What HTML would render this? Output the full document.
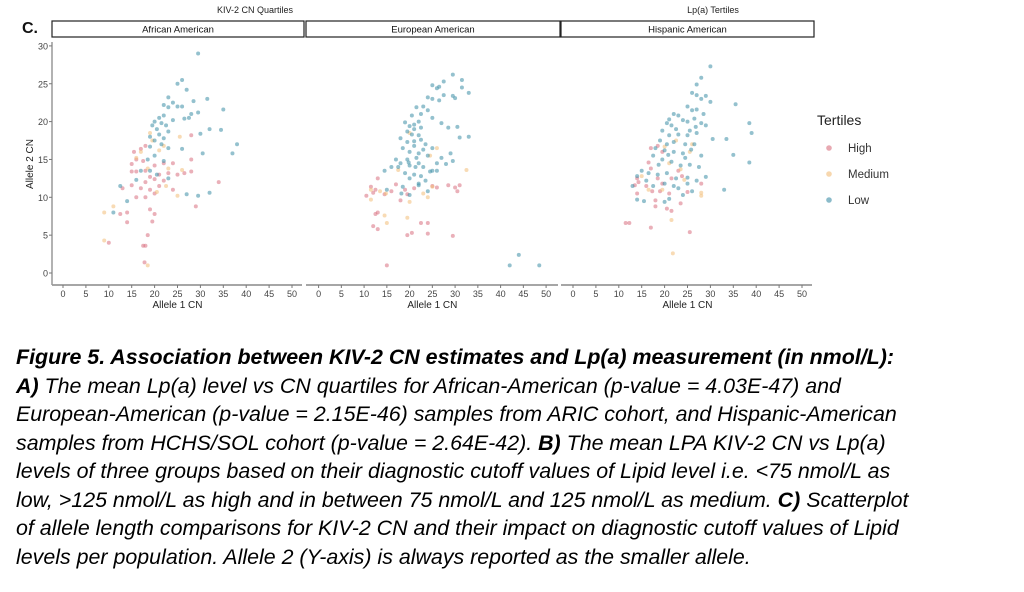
<!DOCTYPE html>
<html><head><meta charset="utf-8">
<style>
body{margin:0;width:1024px;height:592px;background:#fff;overflow:hidden;position:relative;font-family:"Liberation Sans",Arial,sans-serif;}
svg{position:absolute;left:0;top:0;}
.cap{position:absolute;left:16px;font-size:21.4px;font-style:italic;white-space:nowrap;line-height:24px;color:#000;}
</style></head><body>
<svg id="chart" width="1024" height="330"></svg>
<div class="cap" style="top:345px;font-weight:bold">Figure 5. Association between KIV-2 CN estimates and Lp(a) measurement (in nmol/L):</div>
<div class="cap" style="top:373.5px"><b>A)</b> The mean Lp(a) level vs CN quartiles for African-American (p-value = 4.03E-47) and</div>
<div class="cap" style="top:402px">European-American (p-value = 2.15E-46) samples from ARIC cohort, and Hispanic-American</div>
<div class="cap" style="top:430.5px">samples from HCHS/SOL cohort (p-value = 2.64E-42). <b>B)</b> The mean LPA KIV-2 CN vs Lp(a)</div>
<div class="cap" style="top:459px">levels of three groups based on their diagnostic cutoff values of Lipid level i.e. &lt;75 nmol/L as</div>
<div class="cap" style="top:487.5px">low, &gt;125 nmol/L as high and in between 75 nmol/L and 125 nmol/L as medium. <b>C)</b> Scatterplot</div>
<div class="cap" style="top:516px">of allele length comparisons  for KIV-2 CN and their impact on diagnostic cutoff values of Lipid</div>
<div class="cap" style="top:544.5px">levels per population. Allele 2 (Y-axis) is always reported as the smaller allele.</div>
<script>
const panels=["African American","European American","Hispanic American"];
const xTicks=[0,5,10,15,20,25,30,35,40,45,50];
const yTicks=[0,5,10,15,20,25,30];
const groups=["High","Medium","Low"];
const aaLow=[[29.5,29],[26,25.5],[25,25],[27,24.2],[23,23.2],[31.5,23],[28.5,22.7],[22,22.2],[24,22.5],[23,21.9],[25,22],[26,22],[35,21.6],[29.5,21.2],[26.5,20.4],[27.5,20.5],[28,21],[22,20.8],[21,20.5],[20,20],[19.5,19.5],[21.5,19.8],[22.5,19.5],[24,20.2],[20.5,19],[23,18.7],[21,18.3],[19,18],[22,17.8],[32,19],[34.5,18.9],[30,18.4],[20,17.5],[21.5,17],[19,16.7],[23,16.5],[38,17],[37,15.8],[30.5,15.8],[26,16.4],[20,15.5],[18.5,15],[22,14.8],[19,13.5],[20.5,13],[16,12.3],[27,10.4],[29.5,10.2],[32,10.6],[12.5,11.5],[14,9.5],[11,8],[23,12.5],[17,13.5]];
const aaHigh=[[18,16.8],[17,16.4],[15.5,16],[16,15],[15,14.4],[17.5,14.8],[20,14.2],[22,14.5],[24,14.5],[18,13.5],[16,13.4],[15,13.4],[21,13],[23,13.2],[25,13],[19,12.7],[20,12.4],[22,12.2],[18,12],[17,11.2],[15,11.6],[13,11.2],[19,11],[21,11.5],[16,10],[18,10],[20,10.5],[14,8],[12.5,7.8],[19,8.4],[20,7.8],[19.5,6.8],[14,6.7],[18.5,5],[17.5,3.6],[18,3.6],[17.8,1.4],[10,4],[28,18.2],[28,15],[28,13.4],[34,12],[29,8.8],[24,11],[26.5,13.2]];
const aaMed=[[19,18.5],[19.5,17.5],[21,16.2],[17,16],[18.5,13.8],[23,13.8],[22.5,11.5],[25,10.2],[26,13.6],[25.5,18],[9,8],[11,8.8],[18.5,1],[20.5,10.7],[16,15.2],[22,16.8],[9,4.3]];
const eaLow=[[29.5,26.2],[27.5,25.3],[26.5,24.6],[26,24.4],[31.5,25.5],[31.5,24.5],[33,23.8],[29.5,23.4],[30,23.1],[25,24.8],[24,23.2],[25,23],[26.5,22.8],[27.5,23.5],[23,22],[24,21.5],[22.5,21],[25,20.5],[22,20],[21,19.6],[20,19.4],[21,19],[22.5,19.2],[19.5,18.7],[20.5,18.3],[22,18.2],[27,19.8],[28.5,19.2],[30.5,19.3],[31,17.9],[33,18],[18,17.8],[19.5,17.3],[21,17.4],[23.5,17],[25,16.5],[18.5,16.5],[20,16],[22,15.8],[24,15.5],[27,15.2],[29,15.8],[29.5,14.8],[17,15],[18,14.5],[20,14.2],[22,14.5],[23,14],[25,13.5],[16,14],[14.5,13.5],[19,13.2],[21,13],[22.5,12.8],[24.5,13.4],[26,13.5],[20,12.5],[22,11.8],[18.5,11.4],[15,11],[24,10.8],[18.2,10.5],[20,10.3],[22,11.6],[19.5,15],[21.5,15.2],[23,16.3],[20.5,20.8],[19,19.9],[21.5,21.9],[44,2.4],[42,1],[48.5,1],[26,14.5],[28,14.4],[21,16.8],[22.5,17.6],[19.8,14.6],[21.3,14],[23.5,12.2],[17.5,14]];
const eaHigh=[[13,12.5],[11.5,11.4],[12.5,11],[10.5,10.2],[12,10.6],[14.5,10.4],[16,10.8],[17,11.7],[19,11],[19.5,10.4],[18,9.6],[21,11.2],[26,11.3],[28.5,11.6],[30,11.3],[31,11.6],[30.5,10.8],[12.5,7.8],[12,6.2],[13,5.8],[19.5,5],[20.5,5.3],[22.5,6.6],[24,6.6],[24,5.2],[29.5,4.9],[15,1],[13,8],[25,11.5]];
const eaMed=[[11.5,11],[13.5,10.8],[14.8,10.5],[11.5,9.7],[14.5,7.6],[15,6.6],[19.5,7.3],[20,9.4],[23,10.5],[24,10],[25,11.4],[32.5,13.6],[24.5,15.5],[20,18.5],[26,16.5],[17.5,13.6]];
const haLow=[[30,27.3],[28,25.8],[27,24.9],[26,23.8],[27,23.5],[28,23],[29,23.4],[30,22.6],[35.5,22.3],[25,22],[26,21.5],[27,21.6],[28.5,21],[23,20.8],[24,20.2],[25,20],[26.5,20.4],[28,19.8],[29,19.5],[20.5,19.8],[21.5,19.5],[22.5,19],[19.5,18.8],[21,18.2],[23,18.3],[25,18.2],[27,18.5],[38.5,19.8],[39,18.5],[30.5,17.7],[33.5,17.7],[19,17.5],[20.5,17],[22,17.3],[24.5,17],[26.5,17],[18,16.5],[20,16.2],[22,16],[24,15.8],[28,15.5],[35,15.6],[38.5,14.6],[17.5,15.5],[19.5,15],[21.5,14.7],[23.5,14.2],[25.5,14.3],[27.5,14],[15,13.5],[16.5,13.2],[18.5,13],[20.5,13.2],[22.5,12.5],[25,12.6],[27,12.2],[29,12.7],[14,12.8],[16,12.2],[17.5,11.5],[20,11.8],[23,11.2],[25,11.8],[33,11],[14,9.7],[15.5,9.5],[20,9.4],[21,9.8],[24,10.3],[26,10.8],[13,11.5],[22,11.5],[24.5,15.2],[25.8,16.3],[21,20.3],[22,21],[25.5,18.8],[26.8,19.3],[18.7,14.3],[20.8,15.6]];
const haHigh=[[17,16.5],[18.5,16.8],[19.5,16],[16.5,14.6],[17,13.8],[14,12.5],[13.5,11.6],[14.3,12],[16,11.5],[18.5,12.5],[19.5,11.8],[21.5,12.5],[23,13.5],[23.8,12.8],[17.3,10.8],[19,10.8],[21,10.5],[25,10.7],[28,11.8],[18,9.6],[18,8.8],[20.5,8.5],[21.5,8.2],[23.5,9.2],[11.5,6.6],[12.3,6.6],[17,6],[25.5,5.4],[14,10.5]];
const haMed=[[22.5,17.5],[25.5,16],[26,17],[20,16.7],[21,14.5],[24.3,12.3],[19.5,11],[16.5,11],[15,12.8],[28,10.6],[28,10.2],[21.5,7],[21.8,2.6],[23.5,13.7]];

const data=[[aaHigh,aaMed,aaLow],[eaHigh,eaMed,eaLow],[haHigh,haMed,haLow]];
const colors={High:"#d9707f",Medium:"#f2bd78",Low:"#3d8ea6"};
const panelX=[[52,304],[306,560],[561,814]];
const x0=[63,318.6,573], xScaleK=[4.58,4.55,4.58];
const yScale=v=>273-v*7.57;
const NS="http://www.w3.org/2000/svg";
const svg=document.getElementById('chart');
function mk(tag,attrs,parent){const e=document.createElementNS(NS,tag);for(const k in attrs)e.setAttribute(k,attrs[k]);(parent||svg).appendChild(e);return e;}
function txt(s,attrs,parent){const t=mk('text',attrs,parent);t.textContent=s;return t;}

let t=txt("KIV-2 CN Quartiles",{x:255,y:13,'font-size':9,'text-anchor':'middle',fill:'#222'});


t=txt("Lp(a) Tertiles",{x:713,y:13,'font-size':9,'text-anchor':'middle',fill:'#222'});


t=txt("C.",{x:22,y:33,'font-size':16,'font-weight':'bold',fill:'#111'});



let ya=mk('line',{x1:52,y1:42,x2:52,y2:285,stroke:'#999','stroke-width':1.5});


yTicks.forEach(v=>{
  const y=yScale(v);
  mk('line',{x1:49,x2:52,y1:y,y2:y,stroke:'#777','stroke-width':1});
  const l=txt(String(v),{x:48,y:y+3.5,'font-size':9,'text-anchor':'end',fill:'#444'});
  
  
});
t=txt("Allele 2 CN",{x:0,y:0,'font-size':10,'text-anchor':'middle',fill:'#222',transform:'translate(33,164) rotate(-90)'});



panels.forEach((name,p)=>{
  const [a,b]=panelX[p];
  const g=mk('g',{});
  
  
  const r=mk('rect',{x:a,y:21,width:b-a,height:16,fill:'#fff',stroke:'#222','stroke-width':1.2},g);
  
  
  const st=txt(name,{x:(a+b)/2,y:32.5,'font-size':9.5,'text-anchor':'middle',fill:'#111'},g);
  
  
  const ax=mk('line',{x1:a,x2:b-2,y1:285,y2:285,stroke:'#999','stroke-width':1.8},g);
  
  
  const xs=v=>x0[p]+v*xScaleK[p];
  xTicks.forEach(v=>{
    mk('line',{x1:xs(v),x2:xs(v),y1:285,y2:288,stroke:'#777'},g);
    const l=txt(String(v),{x:xs(v),y:297,'font-size':9,'text-anchor':'middle',fill:'#444'},g);
    
    
  });
  const xt=txt("Allele 1 CN",{x:(xs(0)+xs(50))/2,y:308,'font-size':10,'text-anchor':'middle',fill:'#222'},g);
  
  
  data[p].forEach((series,gi)=>{
    series.forEach(([vx,vy])=>{
      const c=mk('circle',{cx:xs(vx),cy:yScale(vy),r:2,fill:colors[groups[gi]],'fill-opacity':0.55},g);
      
      
    });
  });
});

t=txt("Tertiles",{x:817,y:125,'font-size':14,fill:'#222'});


groups.forEach((gname,i)=>{
  const y=148+i*26;
  const c=mk('circle',{cx:829,cy:y,r:2.8,fill:colors[gname],'fill-opacity':0.6});
  
  
  const l=txt(gname,{x:848,y:y+4,'font-size':11.5,fill:'#333'});
  
  
});
</script>
</body></html>
